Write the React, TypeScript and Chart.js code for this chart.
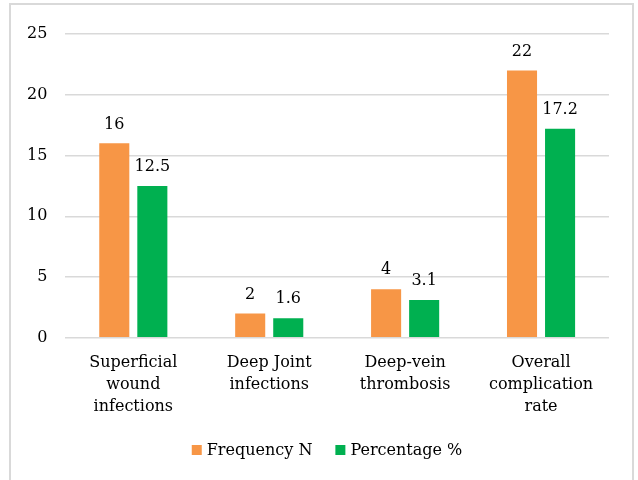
import React, { useEffect, useRef } from "react";
import { Chart, registerables } from "chart.js";

Chart.register(...registerables);

const categories: string[][] = [
  ["Superficial", "wound", "infections"],
  ["Deep Joint", "infections"],
  ["Deep-vein", "thrombosis"],
  ["Overall", "complication", "rate"],
];
const frequencyN: number[] = [16, 2, 4, 22];
const percentage: number[] = [12.5, 1.6, 3.1, 17.2];
const seriesNames: string[] = ["Frequency N", "Percentage %"];
const seriesColors: string[] = ["#F79646", "#00B050"];
const yTicksMax = 25;
const yTickStep = 5;

const FONT = "'DejaVu Serif', serif";
const FS = 16;

const dataLabelPlugin = {
  id: "dataLabels",
  afterDatasetsDraw(chart: any) {
    const ctx = chart.ctx;
    ctx.save();
    ctx.fillStyle = "#000";
    ctx.font = `${FS}px ${FONT}`;
    ctx.textAlign = "center";
    ctx.textBaseline = "bottom";
    chart.data.datasets.forEach((ds: any, i: number) => {
      const meta = chart.getDatasetMeta(i);
      meta.data.forEach((bar: any, j: number) => {
        ctx.fillText(String(ds.data[j]), bar.x, bar.y - 11);
      });
    });
    ctx.restore();
  },
};

const customLegendPlugin = {
  id: "customLegend",
  afterDraw(chart: any) {
    const ctx = chart.ctx;
    ctx.save();
    ctx.font = `${FS}px ${FONT}`;
    ctx.textBaseline = "middle";
    ctx.textAlign = "left";
    const box = 10;
    const gapText = 5;
    const gapItem = 23;
    const items = chart.data.datasets.map((ds: any) => ({
      label: ds.label,
      color: ds.backgroundColor,
      w: box + gapText + ctx.measureText(ds.label).width,
    }));
    const total = items.reduce((s: number, it: any) => s + it.w, 0) + gapItem * (items.length - 1);
    const cx = 327;
    const cy = 450;
    let x = cx - total / 2;
    items.forEach((it: any) => {
      ctx.fillStyle = it.color;
      ctx.fillRect(x, cy - box / 2, box, box);
      ctx.fillStyle = "#000";
      ctx.fillText(it.label, x + box + gapText, cy + 1);
      x += it.w + gapItem;
    });
    ctx.restore();
  },
};

export default function App() {
  const ref = useRef<HTMLCanvasElement | null>(null);
  useEffect(() => {
    if (!ref.current) return;
    const chart = new Chart(ref.current, {
      type: "bar",
      data: {
        labels: categories,
        datasets: [
          {
            label: seriesNames[0],
            data: frequencyN,
            backgroundColor: seriesColors[0],
            categoryPercentage: 0.56,
            barPercentage: 0.79,
          },
          {
            label: seriesNames[1],
            data: percentage,
            backgroundColor: seriesColors[1],
            categoryPercentage: 0.56,
            barPercentage: 0.79,
          },
        ],
      },
      options: {
        animation: false,
        responsive: false,
        maintainAspectRatio: false,
        layout: { padding: { left: 9, right: 29, top: 34, bottom: 56 } },
        plugins: {
          legend: { display: false },
          tooltip: { enabled: false },
        },
        scales: {
          x: {
            grid: { display: false },
            border: { display: false },
            ticks: {
              color: "#000",
              font: { family: FONT, size: FS, lineHeight: 1.38 },
              maxRotation: 0,
              autoSkip: false,
              padding: 6,
            },
          },
          y: {
            min: 0,
            max: yTicksMax,
            ticks: { stepSize: yTickStep, color: "#000", font: { family: FONT, size: FS }, padding: 18 },
            grid: { color: "#d9d9d9", lineWidth: 1.5, drawTicks: false },
            border: { display: false },
          },
        },
      },
      plugins: [dataLabelPlugin, customLegendPlugin],
    });
    return () => chart.destroy();
  }, []);
  return (
    <div style={{ position: "fixed", left: 0, top: 0, width: 638, height: 480, background: "#fff" }}>
      <div
        style={{
          position: "absolute",
          left: 9,
          top: 3,
          width: 625,
          height: 490,
          borderLeft: "2px solid #d9d9d9",
          borderTop: "2px solid #d9d9d9",
          borderRight: "2px solid #d9d9d9",
          boxSizing: "border-box",
        }}
      />
      <canvas ref={ref} width={638} height={480} style={{ position: "absolute", left: 0, top: 0 }} />
    </div>
  );
}
